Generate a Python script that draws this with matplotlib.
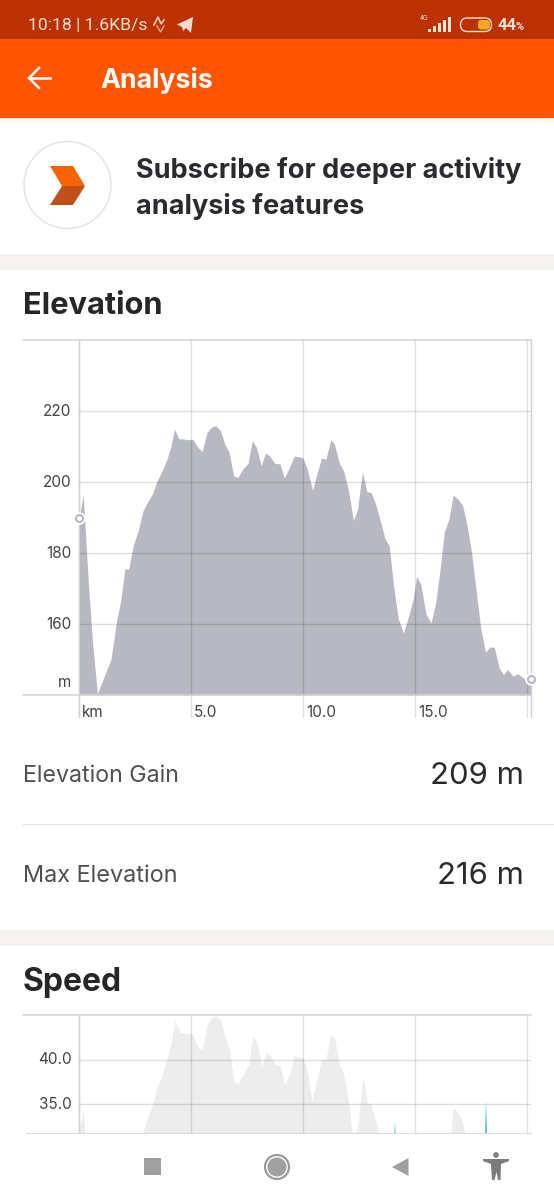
"""Strava analysis screen: elevation and speed profiles."""

import matplotlib

matplotlib.use("Agg")
import matplotlib.pyplot as plt
from matplotlib.patches import Circle, FancyBboxPatch, Polygon, Rectangle

W, H = 554, 1200
FONT = "Inter"

# elevation profile, km / m
elev_km = [0, 0.19, 0.42, 0.61, 0.82, 1.42, 1.68, 1.85, 2.05, 2.21, 2.42, 2.64, 2.86, 3.08,
           3.28, 3.46, 3.68, 3.9, 4.09, 4.26, 4.45, 4.69, 4.87, 5.09, 5.27, 5.49, 5.71, 5.9,
           6.1, 6.31, 6.5, 6.69, 6.9, 7.09, 7.31, 7.54, 7.73, 7.91, 8.13, 8.31, 8.5, 8.72,
           8.96, 9.16, 9.38, 9.6, 9.97, 10.16, 10.42, 10.61, 10.82, 11.01, 11.23, 11.39,
           11.62, 11.8, 12.02, 12.24, 12.42, 12.64, 12.84, 13.03, 13.23, 13.43, 13.65, 13.84,
           14.02, 14.24, 14.47, 14.69, 14.91, 15.06, 15.25, 15.47, 15.7, 15.9, 16.1, 16.29,
           16.5, 16.69, 16.91, 17.11, 17.31, 17.51, 17.73, 17.92, 18.13, 18.32, 18.52, 18.74,
           18.93, 19.12, 19.36, 19.55, 19.76, 19.96, 20.16]
elev_m = [190, 196.2, 171.3, 154.4, 140.4, 149.9, 161, 166.2, 175.6, 175.4, 182.1, 186.3, 192,
          194.6, 196.7, 200, 202.8, 206, 209.8, 214.9, 212.2, 212.1, 211.9, 212, 210, 208.6,
          214, 215.4, 215.9, 214.5, 210.7, 208.4, 201.7, 201.3, 203.7, 205.3, 211.6, 209.8,
          204.6, 208.1, 207.4, 205.3, 205.1, 201.1, 204, 207.3, 206.9, 204, 197.6, 202.3,
          206.8, 206.4, 211.9, 210.7, 205.1, 203.2, 197.6, 189.2, 192.2, 202.8, 197.3, 197,
          193.8, 189.2, 184, 181.9, 171.3, 161.5, 157.4, 162, 167.1, 173.4, 171.1, 162.9,
          160.3, 165.7, 175.1, 185.9, 189.6, 196.3, 195.1, 193.4, 187.7, 180.2, 168.5, 158.7,
          152.1, 153.5, 153.5, 147.6, 145.7, 147.2, 145.3, 146, 145.1, 144.1, 144.6]
elev_yticks = [160, 180, 200, 220]
km_ticks = [0, 5, 10, 15, 20]
km_labels = ["km", "5.0", "10.0", "15.0", ""]

# speed profile, only the top of it is on screen
speed_km = [0, 0.18, 0.27, 0.4, 2.7, 2.84, 3.02, 3.28, 3.49, 3.69, 3.88, 4.09, 4.28, 4.51, 4.78,
            5.04, 5.27, 5.49, 5.73, 5.93, 6.12, 6.33, 6.51, 6.72, 6.91, 7.11, 7.35, 7.58, 7.75,
            7.93, 8.15, 8.34, 8.58, 8.77, 8.96, 9.17, 9.43, 9.59, 9.98, 10.19, 10.39, 10.61,
            10.82, 11.01, 11.24, 11.4, 11.61, 11.81, 12.03, 12.19, 12.28, 12.36, 12.47, 12.66,
            12.87, 13.02, 13.18, 13.37, 13.5, 16.45, 16.57, 16.7, 16.92, 17.09, 17.21, 17.35,
            20.16]
speed_kmh = [31.7, 34.5, 31.7, 28, 28, 31.7, 33.2, 35, 36.9, 38.1, 39.7, 41.6, 44.4, 43, 42.9,
             43, 41.6, 41, 44, 44.7, 44.85, 44.4, 42.5, 41, 37.5, 37.3, 38.4, 39.4, 42.6, 42,
             39.1, 40.8, 40.3, 39.4, 39.3, 37.1, 38.6, 40.4, 40.2, 38.6, 35.3, 37.7, 40.1, 40,
             42.8, 42.4, 39.5, 38.4, 35.1, 31.7, 30, 31.7, 33.2, 38.1, 35.1, 35.1, 33.6, 31.7,
             28, 28, 31.7, 34.6, 34, 33.2, 31.7, 28, 28]
speed_yticks = [35, 40]
# grade-coloured spikes
spike_km = [14.03, 14.07, 14.11, 18.08, 18.13, 18.18]
spike_kmh = [31, 33.1, 31, 31, 35.5, 31]

fig = plt.figure(figsize=(W / 100, H / 100), dpi=100, facecolor="white")

ui = fig.add_axes([0, 0, 1, 1], zorder=0)
ui.set_xlim(0, W)
ui.set_ylim(H, 0)
ui.axis("off")


def label(x, y, s, size, color="#2b2b2f", weight="normal", ha="left", family=FONT):
    ui.text(x, y, s, fontsize=size, color=color, fontweight=weight, ha=ha, va="center", family=family)


# header
ui.add_patch(Rectangle((0, 0), W, 39, color="#bc3100", lw=0))
ui.add_patch(Rectangle((0, 39), W, 79, color="#ff5500", lw=0))
for i in range(5):
    ui.add_patch(Rectangle((0, 118 + i), W, 1, color="#000000", alpha=0.02 * (5 - i) / 2, lw=0))
label(28, 25, "10:18 | 1.6KB/s", 12.6, "#f8e3d8", family="Roboto")
ui.plot([154, 158, 161, 164], [25, 17, 24, 20], color="#f3d0c0", lw=1.2, solid_joinstyle="miter")
ui.plot([157, 160.5, 164], [26, 32, 26], color="#e8a888", lw=1, solid_joinstyle="miter")
ui.add_patch(Polygon([[177, 24.5], [193, 17], [191, 33], [186, 28], [183, 31], [182, 27]], color="#f6dccf", lw=0))
label(420, 19, "4G", 5, "#f3d0c0", family="Roboto")
for i, h in enumerate([3, 6, 9, 12, 15]):
    ui.add_patch(Rectangle((428 + i * 5, 32 - h), 3, h, color="#f8e3d8", lw=0))
ui.add_patch(FancyBboxPatch((460.5, 18), 31, 13.5, boxstyle="round,pad=0,rounding_size=6.7", fc="none", ec="#f8e3d8", lw=1))
ui.add_patch(FancyBboxPatch((478, 20), 12, 9.5, boxstyle="round,pad=0,rounding_size=3", fc="#f5a623", ec="none"))
label(498, 25.5, "44", 12, "#f8e3d8", "bold", family="Roboto")
label(515, 27.5, "%", 8, "#f8e3d8", "bold", family="Roboto")
ui.plot([50, 29], [78, 78], color="white", lw=1.8)
ui.plot([39, 29, 39], [68, 78, 88], color="white", lw=1.8, solid_joinstyle="miter")
label(100.5, 80, "Analysis", 19.3, "white", "bold")

# subscribe banner
ui.add_patch(Circle((67.5, 185), 43.5, fc="white", ec="#e2e2e4", lw=1))
ui.add_patch(Polygon([[50, 166], [73, 166], [85, 186], [62, 186]], color="#f76300", lw=0))
ui.add_patch(Polygon([[62, 186], [85, 186], [73, 205], [50, 205]], color="#bf501c", lw=0))
label(136, 170, "Subscribe for deeper activity", 19.5, weight="bold")
label(136, 207, "analysis features", 19.5, weight="bold")

# section bands
ui.add_patch(Rectangle((0, 254), W, 16, color="#f5f4f0", lw=0))
ui.add_patch(Rectangle((0, 930), W, 16, color="#f5f4f0", lw=0))

label(23, 306, "Elevation", 22.2, color="#262629", weight="bold")
label(23, 982, "Speed", 23, color="#262629", weight="bold")

# stats rows
label(23, 775.5, "Elevation Gain", 16.7, "#505054")
label(524, 775.5, "209 m", 22.4, "#2b2b2f", ha="right")
ui.plot([23, W], [823.5, 823.5], color="#e4e4e4", lw=0.8)
label(23, 875.5, "Max Elevation", 16.9, "#505054")
label(524, 875.5, "216 m", 22.4, "#2b2b2f", ha="right")

# nav bar
ui.add_patch(Rectangle((143.5, 1158), 17, 17, color="#a0a0a0", lw=0))
ui.add_patch(Circle((277, 1167), 12, fc="none", ec="#9a9a9a", lw=1.6))
ui.add_patch(Circle((277, 1167), 9.5, color="#a0a0a0", lw=0))
ui.add_patch(Polygon([[392, 1167], [408.5, 1158], [408.5, 1176]], color="#a0a0a0", lw=0))
ui.add_patch(Circle((496, 1155), 2.8, color="#7c7c7c", lw=0))
ui.add_patch(Polygon([[483, 1159], [509, 1159], [509, 1161], [501, 1164], [500.5, 1180], [498, 1180],
                      [496.5, 1172], [494.5, 1180], [492, 1180], [491, 1164], [483, 1161]], color="#7c7c7c", lw=0))


def chart_axes(top, bottom, ymin, ymax):
    ax = fig.add_axes([23 / W, 1 - bottom / H, 508 / W, (bottom - top) / H], zorder=1)
    ax.patch.set_alpha(0)
    ax.set_xlim(-56 / 22.42, 20.16)
    ax.set_ylim(ymin, ymax)
    ax.axis("off")
    return ax


GRID = (0, 0, 0, 0.13)
TICK = dict(fontsize=11, color="#444448", va="center", family=FONT)

# elevation chart
ax = chart_axes(340, 695, 140, 240)
ax.fill_between(elev_km, elev_m, 140, color="#a6a6b5", alpha=0.8, lw=0, zorder=2)
for v in elev_yticks:
    ax.plot([0, 20.16], [v, v], color=GRID, lw=1, zorder=3)
    ax.text(-0.34, v - 0.2, str(v), ha="right", **TICK)
ax.text(-0.34, 143.4, "m", ha="right", **TICK)
for k, s in zip(km_ticks, km_labels):
    ax.axvline(k, -0.062, 1, color=GRID, lw=1, clip_on=False, zorder=3)
    ax.text(k + 0.14, 135.2, s, ha="left", **TICK)
ax.axvline(0, -0.062, 1, color="#cfcfcf", lw=1, clip_on=False, zorder=3)
ax.axvline(20.16, -0.062, 1, color="#cfcfcf", lw=1, clip_on=False, zorder=3)
ax.axhline(240, color="#d4d4d4", lw=1.1, clip_on=False, zorder=3)
ax.axhline(140, color="#d4d4d4", lw=1.1, clip_on=False, zorder=3)
ax.plot([elev_km[0], elev_km[-1]], [elev_m[0], elev_m[-1]], ls="none", marker="o", ms=9, mfc="white",
        mec="white", mew=0, clip_on=False, zorder=4)
ax.plot([elev_km[0], elev_km[-1]], [elev_m[0], elev_m[-1]], ls="none", marker="o", ms=5, mfc="white",
        mec="#b4b4c0", mew=1.4, clip_on=False, zorder=5)

# speed chart, cut off by the nav bar
ax2 = chart_axes(1015, 1133, 31.75, 45)
ax2.fill_between(speed_km, speed_kmh, 20, color="#ededed", lw=0, zorder=2)
ax2.fill_between(spike_km, spike_kmh, 20, color="#38b6e0", lw=0, zorder=2)
for v in speed_yticks:
    ax2.plot([0, 20.16], [v, v], color=GRID, lw=1, zorder=3)
    ax2.text(-0.34, v, f"{v:.1f}", ha="right", **TICK)
for k in km_ticks:
    ax2.axvline(k, color=GRID, lw=1, zorder=3)
ax2.axvline(0, color="#cfcfcf", lw=1, zorder=3)
ax2.axvline(20.16, color="#cfcfcf", lw=1, zorder=3)
ax2.axhline(45, color="#d4d4d4", lw=1.1, clip_on=False, zorder=3)
ax2.axhline(31.75, xmin=0.006, color="#dcdcdc", lw=0.8, clip_on=False, zorder=3)

fig.savefig("out.png", dpi=100)
